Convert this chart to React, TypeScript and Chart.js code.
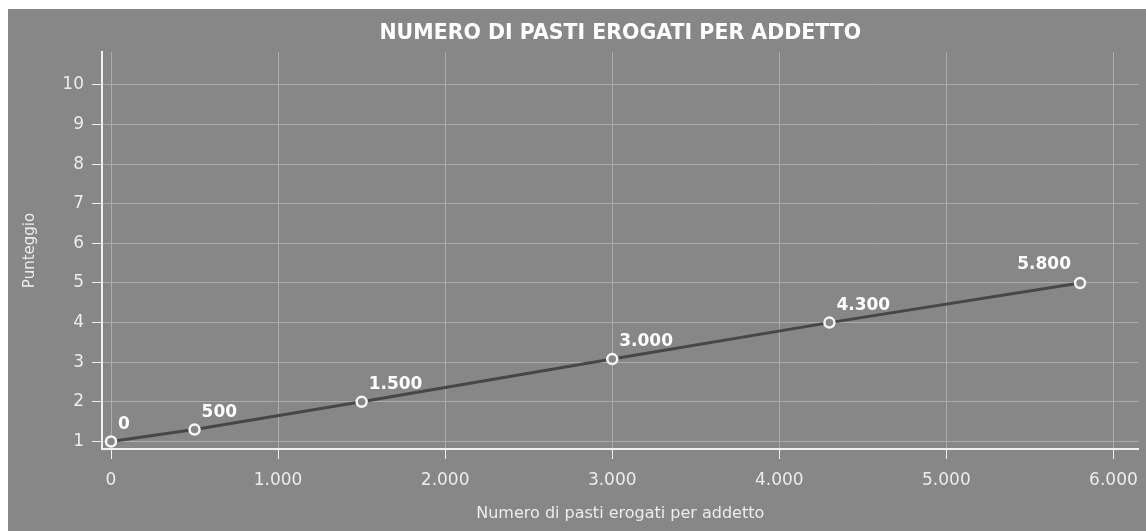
import React, { useEffect, useRef } from "react";
import { Chart, registerables } from "chart.js";

Chart.register(...registerables);

const CHART_TITLE = "NUMERO DI PASTI EROGATI PER ADDETTO";
const X_TITLE = "Numero di pasti erogati per addetto";
const Y_TITLE = "Punteggio";

const mealsPerEmployee = [0, 500, 1500, 3000, 4300, 5800];
const scores = [1, 1.3, 2, 3.08, 4, 5];
const pointLabels = ["0", "500", "1.500", "3.000", "4.300", "5.800"];

const X_TICKS = [0, 1000, 2000, 3000, 4000, 5000, 6000];
const Y_TICKS = [1, 2, 3, 4, 5, 6, 7, 8, 9, 10];

const X_MIN = -54;
const X_MAX = 6150;
const Y_MIN = 0.81;
const Y_MAX = 10.83;

const BG = "#878787";
const GRID = "#acacac";
const AXIS = "#f2f2f2";
const TICK_TEXT = "#ececec";

const fmtIt = (v: number) =>
  String(Math.round(v)).replace(/\B(?=(\d{3})+(?!\d))/g, ".");

const overlayPlugin = {
  id: "overlay",
  afterDatasetsDraw(chart: any) {
    const { ctx, chartArea } = chart;
    const meta = chart.getDatasetMeta(0);
    ctx.save();
    ctx.fillStyle = "#ffffff";
    ctx.font = "bold 17px 'DejaVu Sans'";
    ctx.textBaseline = "middle";
    meta.data.forEach((pt: any, i: number) => {
      const last = i === meta.data.length - 1;
      if (last) {
        ctx.textAlign = "right";
        ctx.fillText(pointLabels[i], pt.x - 9, pt.y - 18);
      } else {
        ctx.textAlign = "left";
        ctx.fillText(pointLabels[i], pt.x + 7, pt.y - 17);
      }
    });
    ctx.font = "bold 20.5px 'DejaVu Sans'";
    ctx.textAlign = "center";
    ctx.fillText(CHART_TITLE, (chartArea.left + chartArea.right) / 2, 25);
    ctx.restore();
  },
};

export default function App() {
  const ref = useRef<HTMLCanvasElement | null>(null);

  useEffect(() => {
    if (!ref.current) return;
    const chart = new Chart(ref.current, {
      type: "line",
      data: {
        datasets: [
          {
            data: mealsPerEmployee.map((x, i) => ({ x, y: scores[i] })),
            borderColor: "#474747",
            borderWidth: 3,
            pointRadius: 5,
            pointBorderWidth: 2.5,
            pointBorderColor: "#f6f6f6",
            pointBackgroundColor: BG,
            tension: 0,
          },
        ],
      },
      plugins: [overlayPlugin],
      options: {
        animation: false,
        responsive: true,
        maintainAspectRatio: false,
        layout: { padding: { top: 43, right: 6, left: 0, bottom: 0 } },
        plugins: {
          legend: { display: false },
          tooltip: { enabled: false },
          title: { display: false },
        },
        scales: {
          x: {
            type: "linear",
            min: X_MIN,
            max: X_MAX,
            afterBuildTicks: (s: any) => {
              s.ticks = X_TICKS.map((value) => ({ value }));
            },
            afterFit: (s: any) => {
              s.height = 82;
              s.paddingLeft = 0;
              s.paddingRight = 0;
            },
            ticks: {
              color: TICK_TEXT,
              font: { family: "'DejaVu Sans'", size: 17 },
              padding: 11,
              callback: (v: any) => fmtIt(Number(v)),
              maxRotation: 0,
              autoSkip: false,
            },
            grid: {
              color: GRID,
              lineWidth: 1,
              tickColor: AXIS,
              tickLength: 10,
            },
            border: { color: AXIS, width: 2 },
            title: {
              display: true,
              text: X_TITLE,
              color: TICK_TEXT,
              font: { family: "'DejaVu Sans'", size: 16 },
              padding: { top: 0, bottom: 8 },
            },
          },
          y: {
            type: "linear",
            min: Y_MIN,
            max: Y_MAX,
            afterBuildTicks: (s: any) => {
              s.ticks = Y_TICKS.map((value) => ({ value }));
            },
            afterFit: (s: any) => {
              s.width = 94;
              s.paddingTop = 0;
              s.paddingBottom = 0;
            },
            ticks: {
              color: TICK_TEXT,
              font: { family: "'DejaVu Sans'", size: 17 },
              padding: 8,
              autoSkip: false,
            },
            grid: {
              color: GRID,
              lineWidth: 1,
              tickColor: AXIS,
              tickLength: 10,
            },
            border: { color: AXIS, width: 2 },
            title: {
              display: true,
              text: Y_TITLE,
              color: TICK_TEXT,
              font: { family: "'DejaVu Sans'", size: 15 },
              padding: { top: 13, bottom: 0 },
            },
          },
        },
      },
    } as any);
    return () => chart.destroy();
  }, []);

  return (
    <div
      style={{
        position: "fixed",
        left: 8,
        top: 9,
        width: 1138,
        height: 522,
        background: BG,
      }}
    >
      <canvas ref={ref} />
    </div>
  );
}
